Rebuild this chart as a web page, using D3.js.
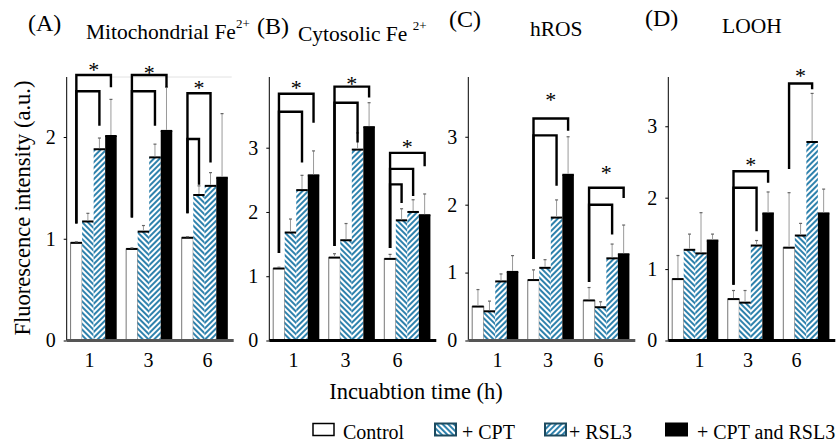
<!DOCTYPE html>
<html><head><meta charset="utf-8">
<script src="https://cdn.jsdelivr.net/npm/d3@7"></script>
<style>
body{margin:0;background:#fff}
svg{display:block}
text{font-family:"Liberation Serif","Times New Roman",serif;fill:#000}
</style>
</head><body>
<svg id="c" width="840" height="443"></svg>
<script>
// ---------------- DATA ----------------
const times = ["1", "3", "6"];
const seriesNames = ["Control", "+ CPT", "+ RSL3", "+ CPT and RSL3"];
const panelLetters = ["(A)", "(B)", "(C)", "(D)"];
const panelTitles = ["Mitochondrial Fe", "Cytosolic Fe", "hROS", "LOOH"];
const panelTitleSup = ["2+", "2+", "", ""];
const yMax = [2.59, 4.10, 3.88, 3.69];
const yTicks = [[0, 1, 2], [0, 1, 2, 3], [0, 1, 2, 3], [0, 1, 2, 3]];

// mean values [time][series]
const mitoMean = [[0.96, 1.17, 1.88, 2.01], [0.90, 1.07, 1.80, 2.06], [1.01, 1.43, 1.52, 1.60]];
const mitoSD   = [[0.01, 0.08, 0.11, 0.36], [0.01, 0.06, 0.13, 0.43], [0.01, 0.09, 0.13, 0.63]];
const cytoMean = [[1.12, 1.68, 2.34, 2.57], [1.29, 1.56, 2.97, 3.32], [1.27, 1.87, 2.00, 1.95]];
const cytoSD   = [[0.02, 0.21, 0.23, 0.38], [0.06, 0.26, 0.26, 0.38], [0.07, 0.18, 0.19, 0.33]];
const hrosMean = [[0.50, 0.43, 0.87, 1.01], [0.89, 1.07, 1.81, 2.44], [0.59, 0.49, 1.21, 1.27]];
const hrosSD   = [[0.25, 0.15, 0.11, 0.24], [0.15, 0.12, 0.26, 0.56], [0.19, 0.08, 0.21, 0.43]];
const loohMean = [[0.86, 1.27, 1.22, 1.40], [0.58, 0.53, 1.33, 1.78], [1.30, 1.47, 2.78, 1.78]];
const loohSD   = [[0.33, 0.22, 0.57, 0.09], [0.12, 0.17, 0.07, 0.30], [0.77, 0.17, 0.68, 0.34]];

// significance brackets: time index, from series, to series, bar level, left leg end, right leg end
const mitoBrackets = [
  {t: 0, from: 0, to: 3, level: 2.61, left: 1.15, right: 2.49},
  {t: 0, from: 0, to: 2, level: 2.45, left: 1.15, right: 2.11},
  {t: 1, from: 0, to: 3, level: 2.61, left: 1.21, right: 2.49},
  {t: 1, from: 0, to: 2, level: 2.45, left: 1.21, right: 2.11},
  {t: 2, from: 0, to: 2, level: 2.43, left: 1.25, right: 1.75},
  {t: 2, from: 0, to: 1, level: 1.98, left: 1.25, right: 1.53}
];
const cytoBrackets = [
  {t: 0, from: 0, to: 3, level: 3.84, left: 1.36, right: 3.39},
  {t: 0, from: 0, to: 2, level: 3.56, left: 1.36, right: 2.77},
  {t: 1, from: 0, to: 3, level: 3.95, left: 1.47, right: 3.78},
  {t: 1, from: 0, to: 2, level: 3.70, left: 1.47, right: 3.08},
  {t: 2, from: 0, to: 3, level: 2.92, left: 1.44, right: 2.71},
  {t: 2, from: 0, to: 2, level: 2.67, left: 1.44, right: 2.25},
  {t: 2, from: 0, to: 1, level: 2.43, left: 1.44, right: 2.14}
];
const hrosBrackets = [
  {t: 1, from: 0, to: 3, level: 3.27, left: 1.20, right: 3.09},
  {t: 1, from: 0, to: 2, level: 3.02, left: 1.20, right: 2.28},
  {t: 2, from: 0, to: 3, level: 2.25, left: 0.86, right: 2.10},
  {t: 2, from: 0, to: 2, level: 2.00, left: 0.86, right: 1.56}
];
const loohBrackets = [
  {t: 1, from: 0, to: 3, level: 2.37, left: 0.78, right: 2.21},
  {t: 1, from: 0, to: 2, level: 2.14, left: 0.78, right: 1.53},
  {t: 2, from: 0, to: 2, level: 3.60, left: 2.40, right: 3.52}
];
// asterisk positions: time index and value of its centre
const mitoStars = [{t: 0, v: 2.70}, {t: 1, v: 2.67}, {t: 2, v: 2.52}];
const cytoStars = [{t: 0, v: 3.99}, {t: 1, v: 4.05}, {t: 2, v: 3.08}];
const hrosStars = [{t: 1, v: 3.60}, {t: 2, v: 2.52}];
const loohStars = [{t: 1, v: 2.51}, {t: 2, v: 3.76}];

const panelMeans = [mitoMean, cytoMean, hrosMean, loohMean];
const panelSDs = [mitoSD, cytoSD, hrosSD, loohSD];
const panelBrackets = [mitoBrackets, cytoBrackets, hrosBrackets, loohBrackets];
const panelStars = [mitoStars, cytoStars, hrosStars, loohStars];

// ---------------- LAYOUT ----------------
const svg = d3.select("#c");
const FONT = '"Liberation Serif","Times New Roman",serif';
const panelLeft = [66.7, 269.3, 468.3, 668.3];
const labelRange = [[89, 207], [293, 397], [497, 598], [699, 796]];
const baseColor = ["#555", "#000", "#555", "#000"];
const panelW = 167;
const baseY = 340.5, topY = 77;
const stripe = "#2f82ad";

// patterns
const defs = svg.append("defs");
function makePattern(id, angle) {
  const p = defs.append("pattern").attr("id", id).attr("patternUnits", "userSpaceOnUse")
    .attr("width", 4).attr("height", 4).attr("patternTransform", `rotate(${angle})`);
  p.append("rect").attr("width", 4).attr("height", 4).attr("fill", "#fff");
  p.append("rect").attr("x", 0).attr("width", 2).attr("height", 4).attr("fill", stripe);
}
makePattern("pCPT", -45);
makePattern("pRSL", 45);
const fills = ["#fff", "url(#pCPT)", "url(#pRSL)", "#000"];

panelMeans.forEach((means, pi) => {
  const L = panelLeft[pi];
  const g = svg.append("g");
  const y = d3.scaleLinear().domain([0, yMax[pi]]).range([baseY, topY]);
  const x0 = d3.scaleBand().domain(times).range([L, L + panelW - 2]).paddingInner(0.17).paddingOuter(0.07);
  const x1 = d3.scaleBand().domain(d3.range(4)).range([0, x0.bandwidth()]);
  const xl = d3.scalePoint().domain(times).range(labelRange[pi]);
  const cx = (t, s) => x0(times[t]) + x1(s) + x1.bandwidth() / 2;

  if (pi === 0) {
    g.append("line").attr("x1", L + 42).attr("x2", L + panelW - 2).attr("y1", topY).attr("y2", topY)
      .attr("stroke", "#e2e2e2").attr("stroke-width", 1);
  }

  // bars
  means.forEach((row, t) => {
    row.forEach((v, s) => {
      const bx = x0(times[t]) + x1(s), bw = x1.bandwidth();
      g.append("rect").attr("x", bx).attr("y", y(v)).attr("width", bw).attr("height", baseY - y(v))
        .attr("fill", fills[s])
        .attr("stroke", s === 0 ? "#777" : "none").attr("stroke-width", 1);
      g.append("line").attr("x1", bx).attr("x2", bx + bw).attr("y1", y(v)).attr("y2", y(v))
        .attr("stroke", "#000").attr("stroke-width", 2);
      // error bar
      const sd = panelSDs[pi][t][s];
      const ex = bx + bw / 2;
      g.append("line").attr("x1", ex).attr("x2", ex).attr("y1", y(v) - 1).attr("y2", y(v + sd))
        .attr("stroke", "#9a9a9a").attr("stroke-width", 1);
      g.append("line").attr("x1", ex - 1.5).attr("x2", ex + 1.5).attr("y1", y(v + sd)).attr("y2", y(v + sd))
        .attr("stroke", "#666").attr("stroke-width", 1.2);
    });
  });

  // brackets
  panelBrackets[pi].forEach(b => {
    const xa = cx(b.t, b.from), xb = cx(b.t, b.to);
    g.append("path")
      .attr("d", `M${xa},${y(b.left)}V${y(b.level)}H${xb}V${y(b.right)}`)
      .attr("fill", "none").attr("stroke", "#000").attr("stroke-width", 2.4);
  });
  panelStars[pi].forEach(st => {
    const bs = panelBrackets[pi].filter(b => b.t === st.t);
    const xa = d3.min(bs, b => cx(b.t, b.from)), xb = d3.max(bs, b => cx(b.t, b.to));
    g.append("text").attr("x", (xa + xb) / 2).attr("y", y(st.v) + 11)
      .attr("text-anchor", "middle").style("font-size", "22px").text("*");
  });

  // y axis
  const ya = g.append("g").attr("transform", `translate(${L},0)`)
    .call(d3.axisLeft(y).tickValues(yTicks[pi]).tickSize(3).tickPadding(8).tickFormat(d3.format("d")));
  ya.select(".domain").attr("d", `M0,${baseY}V${topY}`).attr("stroke", "#000").attr("stroke-width", 1);
  ya.selectAll(".tick line").attr("stroke", "#000");
  ya.selectAll(".tick text").style("font-family", FONT).style("font-size", "20px").attr("fill", "#000");

  // x axis (baseline) and time labels
  g.append("line").attr("x1", L).attr("x2", L + panelW).attr("y1", baseY).attr("y2", baseY)
    .attr("stroke", baseColor[pi]).attr("stroke-width", 3.2);
  const xa = g.append("g").attr("transform", `translate(0,${baseY})`)
    .call(d3.axisBottom(xl).tickSize(0).tickPadding(12));
  xa.select(".domain").remove();
  xa.selectAll(".tick text").style("font-family", FONT).style("font-size", "20px").attr("fill", "#000");
});

// panel titles
const letterPos = [[28, 31], [257, 34], [449, 27], [645, 26]];
const titlePos = [[86, 39], [298, 41], [530, 36], [722, 33]];
panelLetters.forEach((l, i) => {
  svg.append("text").attr("x", letterPos[i][0]).attr("y", letterPos[i][1]).style("font-size", "24px").text(l);
  const tt = svg.append("text").attr("x", titlePos[i][0]).attr("y", titlePos[i][1]).style("font-size", "21.5px");
  tt.append("tspan").text(panelTitles[i] + (i === 1 ? " " : ""));
  if (panelTitleSup[i]) tt.append("tspan").attr("dy", -11).style("font-size", "13px").text(panelTitleSup[i]);
});

// axis titles
svg.append("text").attr("transform", "translate(30,208) rotate(-90)").attr("text-anchor", "middle")
  .style("font-size", "22.5px").text("Fluorescence intensity (a.u.)");
svg.append("text").attr("x", 416).attr("y", 399).attr("text-anchor", "middle")
  .style("font-size", "22.5px").text("Incuabtion time (h)");

// legend
const legBox = [313, 435, 545, 666];
const legText = [343, 462, 569, 697];
seriesNames.forEach((n, i) => {
  svg.append("rect").attr("x", legBox[i]).attr("y", 423.5).attr("width", 21).attr("height", 12)
    .attr("fill", fills[i]).attr("stroke", i === 1 || i === 2 ? "#1c4a5f" : "#000")
    .attr("stroke-width", i === 0 ? 1.5 : 2);
  svg.append("text").attr("x", legText[i]).attr("y", 438.5).style("font-size", "20px").text(n);
});
</script>
</body></html>
